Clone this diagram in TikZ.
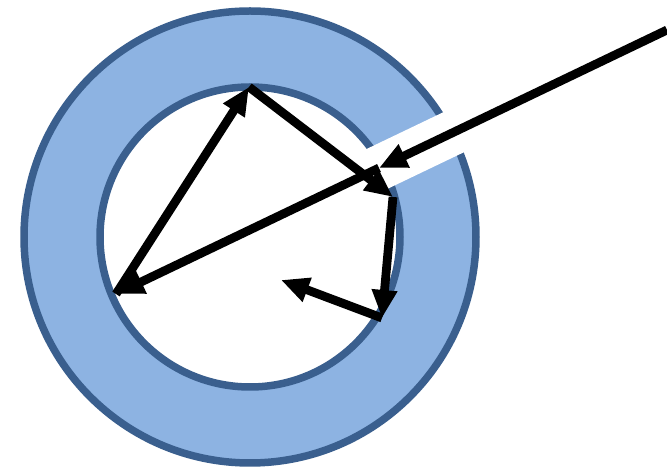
\documentclass[tikz,border=0pt]{standalone}
\usepackage{tikz}
\usetikzlibrary{arrows.meta,calc}

\definecolor{ringfill}{HTML}{8DB3E2}
\definecolor{ringline}{HTML}{3A5F8E}

\begin{document}
\begin{tikzpicture}[x=0.02cm, y=-0.02cm,
    ray/.style={line width=0.175cm, -{Triangle[length=0.56cm, width=0.48cm]}},
    ring/.style={fill=ringfill, draw=ringline, line width=0.15cm, even odd rule}]
    \useasboundingbox (0,0) rectangle (667,472);

    % points of the path
    \coordinate (centre) at (250,237);
    \coordinate (src) at (667,30);
    \coordinate (entry) at (379,168);
    \coordinate (left) at (116,294);
    \coordinate (top) at (249,87);
    \coordinate (right) at (393,197);
    \coordinate (low) at (382,318);
    \coordinate (mid) at (281,280);

    % the ring and its opening
    \path [ring] (centre) circle [radius=226] (centre) circle [radius=150];
    \draw [white, line width=0.9cm] ($(left)!0.42!(src)$) -- ($(left)!0.68!(src)$);

    \draw [ray] (src) -- (entry);
    \draw [ray] (entry) -- (left);
    \draw [ray] (left) -- (top);
    \draw [ray] (top) -- (right);
    \draw [ray] (right) -- (low);
    \draw [ray] (low) -- (mid);
\end{tikzpicture}
\end{document}
